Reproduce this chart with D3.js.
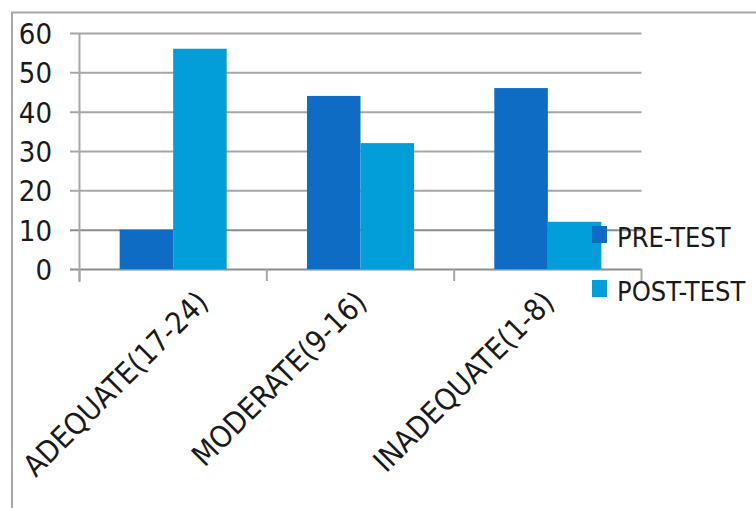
<!DOCTYPE html>
<html>
<head>
<meta charset="utf-8">
<script src="https://cdn.jsdelivr.net/npm/d3@7/dist/d3.min.js"></script>
<style>
  html, body { margin: 0; padding: 0; background: #fff; }
  svg { display: block; }
  text { font-family: "Liberation Sans Narrow", "DejaVu Sans Condensed", "Arial Narrow", sans-serif; fill: #1a1a1a; }
</style>
</head>
<body>
<svg id="chart" width="756" height="508"></svg>
<script>
// Knowledge score categories and the two test rounds (percent of respondents)
const categories = ["ADEQUATE(17-24)", "MODERATE(9-16)", "INADEQUATE(1-8)"];
const seriesNames = ["PRE-TEST", "POST-TEST"];
const preTest = [10, 44, 46];
const postTest = [56, 32, 12];
const yTicks = [0, 10, 20, 30, 40, 50, 60];
const seriesColors = ["#0e6cc5", "#029ed9"];

const svg = d3.select("#chart");
const W = 756, H = 508;

// plot frame
const plotL = 79.5, plotR = 641.5, plotT = 33, plotB = 269;
const frameX = 12;

// outer chart border (only top and left edges fall inside the canvas)
svg.append("path")
  .attr("d", `M${frameX},${H} L${frameX},12.5 L${W},12.5`)
  .attr("fill", "none")
  .attr("stroke", "#a6a6a6")
  .attr("stroke-width", 2);

const x = d3.scaleBand().domain(categories).range([plotL, plotR]).paddingInner(0).paddingOuter(0);
const xs = d3.scaleBand().domain(seriesNames).range([0, x.bandwidth()]).paddingInner(0).paddingOuter(0.75);
const y = d3.scaleLinear().domain([0, 60]).range([plotB, plotT]);

// horizontal gridlines, running out past the value axis as tick marks
const grid = svg.append("g")
  .attr("transform", `translate(${plotR},0)`)
  .call(d3.axisLeft(y).tickValues(yTicks).tickSize(plotR - 70).tickFormat(""));
grid.select(".domain").remove();
grid.selectAll(".tick line")
  .attr("stroke", d => d === 10 || d === 0 ? "#8c8c8c" : "#a6a6a6")
  .attr("stroke-width", 2);

// value axis labels
const yLab = svg.append("g")
  .attr("transform", `translate(52,0)`)
  .call(d3.axisLeft(y).tickValues(yTicks).tickSize(0).tickPadding(0));
yLab.select(".domain").remove();
yLab.selectAll("text")
  .attr("font-size", 29)
  .attr("dy", "0.36em")
  .attr("text-anchor", "end")
  .attr("fill", "#1a1a1a");

// bars
const rows = categories.map((c, i) => ({ cat: c, vals: [preTest[i], postTest[i]] }));
const groups = svg.append("g").selectAll("g")
  .data(rows).join("g")
  .attr("transform", d => `translate(${x(d.cat)},0)`);
groups.selectAll("rect")
  .data(d => d.vals.map((v, j) => ({ name: seriesNames[j], v, j })))
  .join("rect")
  .attr("x", d => xs(d.name))
  .attr("width", xs.bandwidth())
  .attr("y", d => y(d.v))
  .attr("height", d => y(0) - y(d.v))
  .attr("fill", d => seriesColors[d.j]);

// value axis line
svg.append("line")
  .attr("x1", plotL).attr("x2", plotL)
  .attr("y1", plotT).attr("y2", plotB + 13)
  .attr("stroke", "#a6a6a6").attr("stroke-width", 2);

// category axis tick marks at band boundaries
const bounds = categories.map(c => x(c) + x.bandwidth()).concat([x(categories[0])]);
svg.append("g").selectAll("line")
  .data(bounds).join("line")
  .attr("x1", d => d).attr("x2", d => d)
  .attr("y1", plotB).attr("y2", plotB + 12)
  .attr("stroke", "#a6a6a6").attr("stroke-width", 2);

// rotated category labels; a label that would run past the frame is nudged right
const labelY = 304;
svg.append("g").selectAll("text")
  .data(categories).join("text")
  .attr("text-anchor", "end")
  .attr("font-size", 30)
  .text(d => d)
  .each(function (d) {
    let ax = x(d) + x.bandwidth() / 2 + 8;
    const el = d3.select(this);
    el.attr("transform", `translate(${ax},${labelY}) rotate(-45)`);
    const box = this.getBoundingClientRect();
    const svgLeft = svg.node().getBoundingClientRect().left;
    const overshoot = frameX + 4 - (box.left - svgLeft);
    if (overshoot > 0) {
      ax += overshoot;
      el.attr("transform", `translate(${ax},${labelY}) rotate(-45)`);
    }
  });

// legend
const legend = svg.append("g").selectAll("g")
  .data(seriesNames).join("g")
  .attr("transform", (d, i) => `translate(592,${226 + i * 54})`);
legend.append("rect")
  .attr("width", 15).attr("height", 17)
  .attr("fill", (d, i) => seriesColors[i]);
legend.append("text")
  .attr("x", 25).attr("y", 21)
  .attr("font-size", 27)
  .text(d => d);
</script>
</body>
</html>
